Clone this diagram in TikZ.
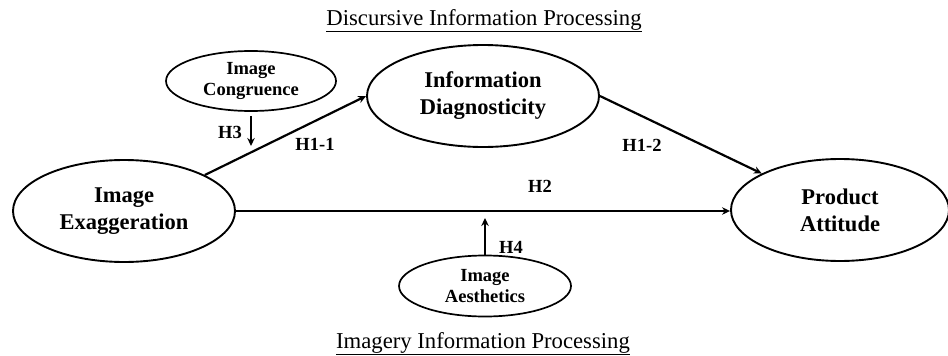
\documentclass[tikz,border=0pt]{standalone}
\usepackage{fontspec}
\setmainfont{Liberation Serif}
\usetikzlibrary{shapes.geometric,arrows.meta}
\begin{document}
\begin{tikzpicture}[x=1pt,y=-1pt,
 bigell/.style={ellipse,draw,line width=1.9pt,inner sep=0pt,align=center,font=\fontsize{22.5}{27}\selectfont\bfseries},
 smallell/.style={ellipse,draw,line width=1.7pt,inner sep=0pt,align=center,font=\fontsize{18.5}{21}\selectfont\bfseries},
 hlabel/.style={font=\fontsize{18.5}{20}\selectfont\bfseries},
 titletext/.style={font=\fontsize{22.7}{26}\selectfont,anchor=base,inner sep=0pt},
 conn/.style={line width=2.2pt,-{Stealth[length=8pt,width=7.5pt]}}]
\useasboundingbox (0,0) rectangle (948,356);

\node[titletext] (t1) at (484,25) {\underline{Discursive Information Processing}};
\node[titletext] (t2) at (483,348) {\underline{Imagery Information Processing}};

\node[bigell,minimum width=222pt,minimum height=102pt] (ie) at (124,211) {Image\\Exaggeration};
\node[bigell,minimum width=232pt,minimum height=102pt] (id) at (483,96) {Information\\Diagnosticity};
\node[bigell,minimum width=218pt,minimum height=102pt] (pa) at (840,210) {Product\\Attitude};
\node[smallell,minimum width=170pt,minimum height=60pt] (ic) at (251,81) {Image\\Congruence};
\node[smallell,minimum width=172pt,minimum height=61pt] (ia) at (485,286) {Image\\Aesthetics};

\coordinate (h3tip) at (251,146);
\coordinate (h4tip) at (485,218);

\draw[conn] (ie.24) -- (id.west);
\draw[conn] (id.east) -- (pa.155);
\draw[conn] (ie.east) -- (ie.east -| pa.west);
\draw[conn] ([yshift=-4pt]ic.south) -- (h3tip);
\draw[conn] (ia.north) -- (h4tip);

\node[hlabel] (l3) at (230,132) {H3};
\node[hlabel] (l11) at (315,144) {H1-1};
\node[hlabel] (l12) at (642,145) {H1-2};
\node[hlabel] (l2) at (540,186) {H2};
\node[hlabel] (l4) at (511,247) {H4};
\end{tikzpicture}
\end{document}
